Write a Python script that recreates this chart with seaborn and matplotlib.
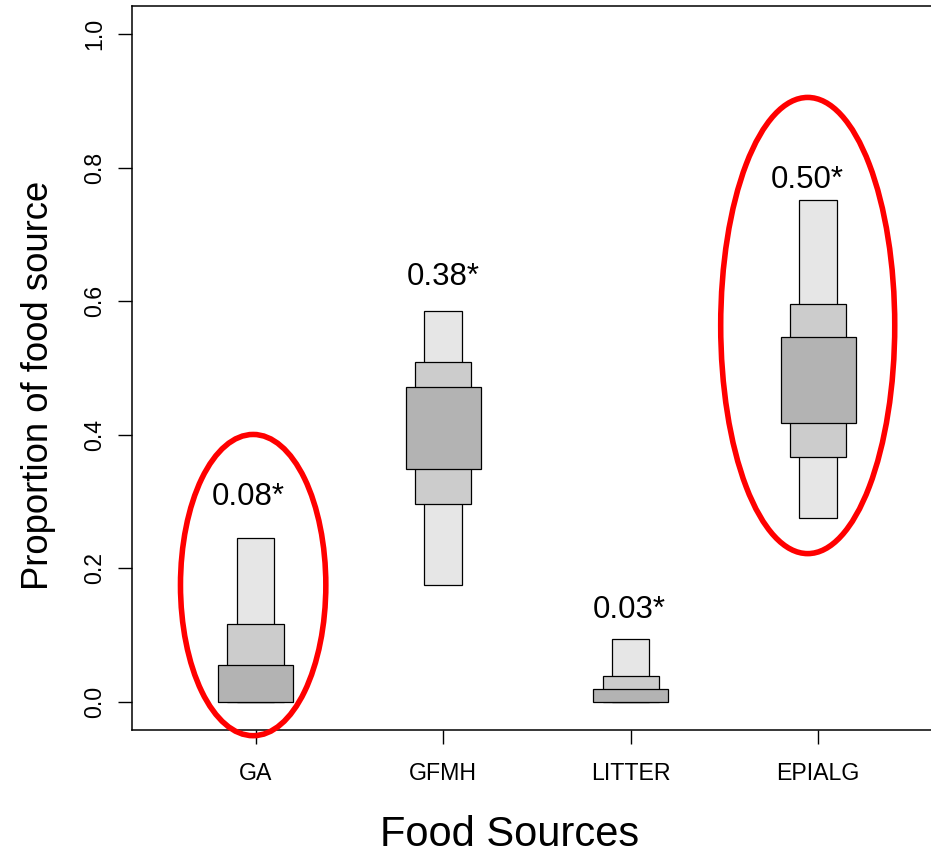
import numpy as np
import pandas as pd
import matplotlib
matplotlib.use("Agg")
import matplotlib.pyplot as plt
from matplotlib.patches import Ellipse
import seaborn as sns

# ---- data ----
categories = ["GA", "GFMH", "LITTER", "EPIALG"]
lo95 = [0.0, 0.175, 0.0, 0.275]
hi95 = [0.245, 0.585, 0.094, 0.751]
lo75 = [0.0, 0.296, 0.0, 0.367]
hi75 = [0.116, 0.509, 0.039, 0.596]
lo50 = [0.0, 0.349, 0.0, 0.417]
hi50 = [0.056, 0.472, 0.020, 0.546]
mode_labels = ["0.08*", "0.38*", "0.03*", "0.50*"]
yticks = [0.0, 0.2, 0.4, 0.6, 0.8, 1.0]

sns.set_theme(style="white")
plt.rcParams["font.family"] = ["Liberation Sans", "DejaVu Sans"]

W, H = 931, 856
fig = plt.figure(figsize=(W / 100, H / 100), dpi=100)
ax = fig.add_axes([132 / W, 126 / H, 810 / W, 724 / H])

intervals = [
    (lo95, hi95, "#E6E6E6", 0.2),
    (lo75, hi75, "#CCCCCC", 0.3),
    (lo50, hi50, "#B3B3B3", 0.4),
]
for lo, hi, col, w in intervals:
    df = pd.DataFrame({"source": categories,
                       "height": np.array(hi) - np.array(lo)})
    sns.barplot(data=df, x="source", y="height", order=categories,
                color=col, saturation=1, width=w, errorbar=None,
                bottom=lo, edgecolor="black", linewidth=0.9, ax=ax)

# annotation labels (placement offsets above the 95% interval)
label_dx = [-0.04, 0.0, -0.01, -0.06]
label_dy = [0.050, 0.039, 0.032, 0.018]
for i, txt in enumerate(mode_labels):
    ax.text(i + label_dx[i], hi95[i] + label_dy[i], txt, ha="center",
            va="baseline", fontsize=22.5, color="black")

# red highlight ellipses
ellipses = [(-0.013, 0.175, 0.775, 0.451), (2.944, 0.5636, 0.928, 0.683)]
for cx, cy, ew, eh in ellipses:
    ax.add_patch(Ellipse((cx, cy), ew, eh, fill=False, edgecolor="#FF0000",
                         linewidth=4.0, clip_on=False, zorder=5))

ax.set_xlim(-0.659, 3.66)
ax.set_ylim(-0.042, 1.042)
ax.set_yticks(yticks)
ax.set_yticklabels([f"{v:.1f}" for v in yticks])
ax.set_xticks(range(len(categories)))
ax.set_xticklabels(categories)

ax.tick_params(axis="both", direction="out", length=10, width=1,
               color="black", labelcolor="black", labelsize=16.7,
               left=True, bottom=True)
ax.tick_params(axis="x", pad=13)
ax.tick_params(axis="y", pad=8.5, labelrotation=90)
for t in ax.get_yticklabels():
    t.set_va("center")

for s in ax.spines.values():
    s.set_color("black")
    s.set_linewidth(1.1)
    s.set_visible(True)

ax.set_xlabel("Food Sources", fontsize=30, color="black")
ax.xaxis.set_label_coords(0.466, -0.1602)
ax.xaxis.label.set_va("baseline")
ax.set_ylabel("Proportion of food source", fontsize=26.3, color="black")
ax.yaxis.set_label_coords(-0.104, 0.4765)
ax.yaxis.label.set_va("baseline")

fig.savefig("out.png", dpi=100)
